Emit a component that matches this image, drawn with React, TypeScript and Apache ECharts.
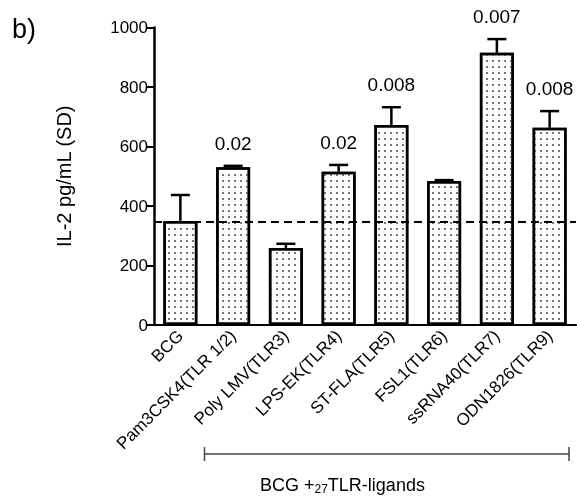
import React, { useEffect, useRef } from "react";
import * as echarts from "echarts";

const categories = [
  "BCG",
  "Pam3CSK4(TLR 1/2)",
  "Poly LMV(TLR3)",
  "LPS-EK(TLR4)",
  "ST-FLA(TLR5)",
  "FSL1(TLR6)",
  "ssRNA40(TLR7)",
  "ODN1826(TLR9)",
];
const means = [350, 530, 259, 515, 672, 484, 915, 663];
const sds = [87, 5, 14, 23, 60, 3, 46, 56];
const pValues = ["", "0.02", "", "0.02", "0.008", "", "0.007", "0.008"];
const baseline = 347;
const yMin = 0;
const yMax = 1000;
const yInterval = 200;
const panelLabel = "b)";
const yAxisTitle = "IL-2 pg/mL (SD)";
const groupLabelMain = "BCG +";
const groupLabelSmall = "27";
const groupLabelEnd = "TLR-ligands";

export default function App() {
  const ref = useRef<HTMLDivElement>(null);
  useEffect(() => {
    const chart = echarts.init(ref.current!, null, { renderer: "svg" });
    const font = "'Liberation Sans', Arial, Helvetica, sans-serif";
    const renderItem = (params: any, api: any) => {
      const i = api.value(0);
      const m = api.value(1);
      const sd = api.value(2);
      const base = api.coord([i, m]);
      const top = api.coord([i, m + sd]);
      const capHalf = 9.5;
      const children: any[] = [
        {
          type: "line",
          shape: { x1: base[0], y1: base[1], x2: top[0], y2: top[1] },
          style: { stroke: "#000", lineWidth: 2.5 },
        },
        {
          type: "line",
          shape: { x1: top[0] - capHalf, y1: top[1], x2: top[0] + capHalf, y2: top[1] },
          style: { stroke: "#000", lineWidth: 2.5 },
        },
      ];
      const p = pValues[params.dataIndex];
      if (p) {
        children.push({
          type: "text",
          x: top[0],
          y: top[1] - 13,
          style: {
            text: p,
            fontSize: 19,
            fontFamily: font,
            fill: "#000",
            align: "center",
            verticalAlign: "bottom",
          },
        });
      }
      return { type: "group", children };
    };
    chart.setOption({
      animation: false,
      textStyle: { fontFamily: font },
      grid: { left: 154, right: 1, top: 27.5, bottom: 177 },
      xAxis: {
        type: "category",
        data: categories,
        axisLine: { lineStyle: { color: "#000", width: 2.2 } },
        axisTick: { alignWithLabel: true, length: 7, lineStyle: { color: "#000", width: 2 } },
        axisLabel: {
          interval: 0,
          rotate: 45,
          fontSize: 17,
          color: "#000",
          margin: 8,
          fontFamily: font,
        },
      },
      yAxis: {
        type: "value",
        min: yMin,
        max: yMax,
        interval: yInterval,
        name: yAxisTitle,
        nameLocation: "middle",
        nameGap: 80,
        nameTextStyle: { fontSize: 20, color: "#000", fontFamily: font },
        axisLine: { show: true, lineStyle: { color: "#000", width: 2.5 } },
        axisTick: { show: true, length: 7, lineStyle: { color: "#000", width: 2 } },
        axisLabel: {
          fontSize: 17,
          color: "#000",
          margin: 6,
          fontFamily: font,
          formatter: (v: number) => String(v),
        },
        splitLine: { show: false },
      },
      series: [
        {
          type: "bar",
          data: means,
          barWidth: 34,
          itemStyle: {
            color: "#fff",
            borderColor: "#000",
            borderWidth: 2.5,
            decal: {
              symbol: "rect",
              symbolSize: 1,
              color: "#777",
              backgroundColor: "#fff",
              dashArrayX: [1.2, 3.8],
              dashArrayY: [1.2, 3.8],
            },
          },
          markLine: {
            silent: true,
            symbol: ["none", "none"],
            label: { show: false },
            lineStyle: { color: "#000", type: [8, 5], width: 2 },
            data: [{ yAxis: baseline }],
          },
        },
        {
          type: "custom",
          data: means.map((m, i) => [i, m, sds[i]]),
          encode: { x: 0, y: 1 },
          renderItem,
          z: 10,
        },
      ],
      graphic: [
        {
          type: "text",
          left: 12,
          top: 15,
          style: { text: panelLabel, fontSize: 27, fontFamily: font, fill: "#000" },
        },
        {
          type: "line",
          shape: { x1: 204, y1: 454, x2: 569, y2: 454 },
          style: { stroke: "#444", lineWidth: 1.5 },
        },
        {
          type: "line",
          shape: { x1: 204.5, y1: 447, x2: 204.5, y2: 461 },
          style: { stroke: "#444", lineWidth: 1.5 },
        },
        {
          type: "line",
          shape: { x1: 569, y1: 447, x2: 569, y2: 461 },
          style: { stroke: "#444", lineWidth: 1.5 },
        },
        {
          type: "text",
          x: 260,
          y: 485,
          style: {
            text: `{a|${groupLabelMain}}{s|${groupLabelSmall}}{a|${groupLabelEnd}}`,
            verticalAlign: "middle",
            align: "left",
            rich: {
              a: { fontSize: 18, fontFamily: font, fill: "#000" } as any,
              s: { fontSize: 12, fontFamily: font, fill: "#000", padding: [7, 0, 0, 0] } as any,
            },
          },
        },
      ],
    });
    return () => chart.dispose();
  }, []);
  return (
    <div
      ref={ref}
      style={{ position: "fixed", left: 0, top: 0, width: 577, height: 502 }}
    />
  );
}
